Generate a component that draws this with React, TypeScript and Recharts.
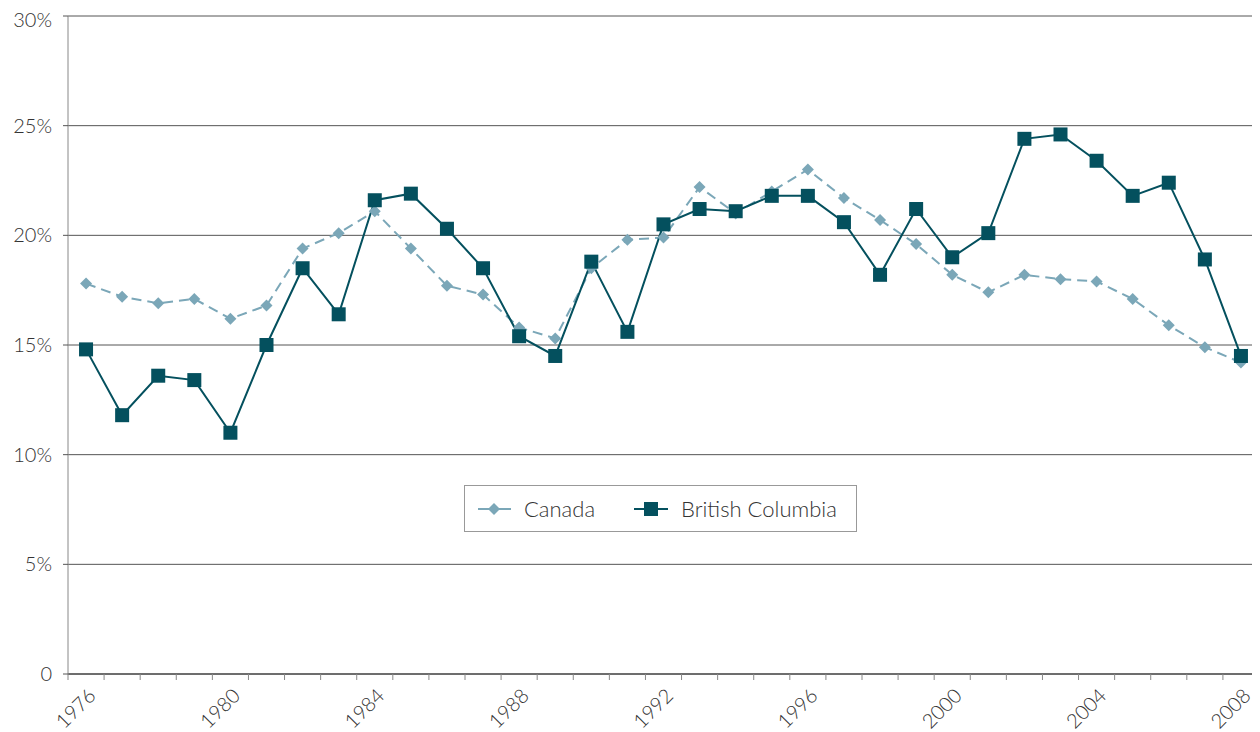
import { LineChart, Line, XAxis, YAxis, CartesianGrid, ReferenceLine } from 'recharts';

const years = [
  1976, 1977, 1978, 1979, 1980, 1981, 1982, 1983, 1984, 1985, 1986, 1987, 1988, 1989, 1990, 1991, 1992,
  1993, 1994, 1995, 1996, 1997, 1998, 1999, 2000, 2001, 2002, 2003, 2004, 2005, 2006, 2007, 2008,
];
const canada = [
  17.8, 17.2, 16.9, 17.1, 16.2, 16.8, 19.4, 20.1, 21.1, 19.4, 17.7, 17.3, 15.8, 15.3, 18.5, 19.8, 19.9,
  22.2, 21.0, 22.0, 23.0, 21.7, 20.7, 19.6, 18.2, 17.4, 18.2, 18.0, 17.9, 17.1, 15.9, 14.9, 14.2,
];
const britishColumbia = [
  14.8, 11.8, 13.6, 13.4, 11.0, 15.0, 18.5, 16.4, 21.6, 21.9, 20.3, 18.5, 15.4, 14.5, 18.8, 15.6, 20.5,
  21.2, 21.1, 21.8, 21.8, 20.6, 18.2, 21.2, 19.0, 20.1, 24.4, 24.6, 23.4, 21.8, 22.4, 18.9, 14.5,
];
const yTicks = [0, 5, 10, 15, 20, 25, 30];
// tick marks sit between the years (band edges)
const boundaryTicks = Array.from({ length: years.length + 1 }, (_, i) => i - 0.5);

const data = years.map((year, i) => ({ idx: i, year, canada: canada[i], bc: britishColumbia[i] }));

const CANADA = '#7ba7b8';
const BC = '#04505e';
const FONT = 'Lato, "Open Sans", sans-serif';
const HALF_BAND = 1191 / years.length / 2;

const YearTick = ({ x, y, payload }: any) => {
  const k = payload.value + 0.5;
  const year = years[k];
  if (year === undefined || year % 4 !== 0) return null;
  const tx = x + HALF_BAND + 11;
  const ty = y + 15;
  return (
    <text
      x={tx}
      y={ty}
      textAnchor="end"
      fontSize={20}
      fontWeight={300}
      fontFamily={FONT}
      fill="#333"
      stroke="none"
      transform={`rotate(-45, ${tx}, ${ty})`}
    >
      {year}
    </text>
  );
};

const Diamond = ({ cx, cy }: any) => (
  <path d={`M${cx},${cy - 6}L${cx + 6},${cy}L${cx},${cy + 6}L${cx - 6},${cy}Z`} fill={CANADA} />
);
const Square = ({ cx, cy }: any) => <rect x={cx - 7} y={cy - 7} width={14} height={14} fill={BC} />;

const LegendBox = () => (
  <div
    style={{
      position: 'absolute',
      left: 456,
      top: 477,
      border: '1px solid #999',
      width: 393,
      height: 47,
      boxSizing: 'border-box',
      display: 'flex',
      alignItems: 'center',
      fontFamily: FONT,
      fontWeight: 300,
      fontSize: 22,
      color: '#333',
      background: '#fff',
      whiteSpace: 'nowrap',
    }}
  >
    <svg width={46} height={20} style={{ marginLeft: 13, flexShrink: 0 }}>
      <line x1={0} y1={10} x2={33} y2={10} stroke={CANADA} strokeWidth={2} />
      <path d="M16,4L22,10L16,16L10,10Z" fill={CANADA} />
    </svg>
    <span>Canada</span>
    <svg width={47} height={20} style={{ marginLeft: 39, flexShrink: 0 }}>
      <line x1={0} y1={10} x2={34} y2={10} stroke={BC} strokeWidth={2} />
      <rect x={10} y={3} width={14} height={14} fill={BC} />
    </svg>
    <span>British Columbia</span>
  </div>
);

export default function App() {
  return (
    <div style={{ position: 'relative', width: 1252, height: 724 }}>
      <LineChart width={1252} height={724} data={data} margin={{ top: 8, right: 1, left: 0, bottom: 0 }}>
        <CartesianGrid horizontal vertical={false} stroke="#555" strokeWidth={1} />
        <XAxis
          dataKey="idx"
          type="number"
          domain={[-0.5, years.length - 0.5]}
          ticks={boundaryTicks}
          interval={0}
          height={58}
          axisLine={{ stroke: '#333' }}
          tickLine={{ stroke: '#888' }}
          tickSize={6}
          tick={<YearTick />}
        />
        <YAxis
          domain={[0, 30]}
          ticks={yTicks}
          width={60}
          tickSize={5}
          tickMargin={11}
          axisLine={{ stroke: '#888' }}
          tickLine={{ stroke: '#555' }}
          tick={{ fontSize: 20, fontFamily: FONT, fontWeight: 300, fill: '#333' }}
          tickFormatter={(v: number) => (v === 0 ? '0' : `${v}%`)}
        />
        <ReferenceLine x={years.length - 0.5} stroke="#555" />
        <Line
          dataKey="canada"
          stroke={CANADA}
          strokeWidth={2}
          strokeDasharray="10 6"
          dot={<Diamond />}
          isAnimationActive={false}
        />
        <Line dataKey="bc" stroke={BC} strokeWidth={2} dot={<Square />} isAnimationActive={false} />
      </LineChart>
      <LegendBox />
    </div>
  );
}
